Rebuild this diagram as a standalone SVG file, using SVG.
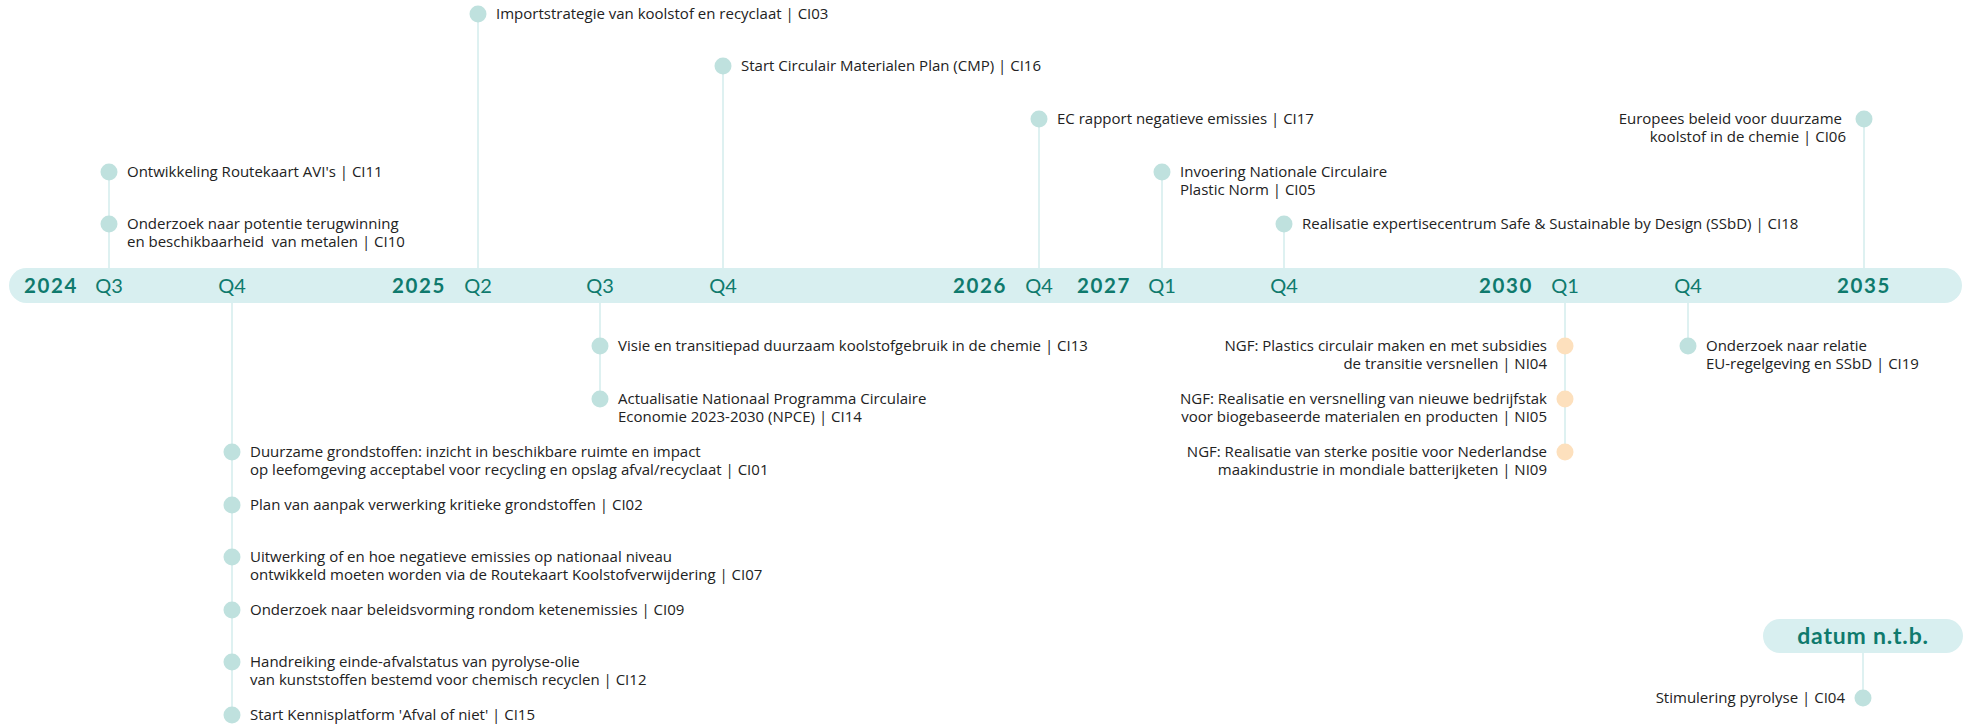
<svg xmlns="http://www.w3.org/2000/svg" width="1968" height="725" viewBox="0 0 1968 725">
<style>
.bg{fill:#ffffff}
.bar{fill:#d8eff0}
.yr{font-family:Lato,"Open Sans",sans-serif;font-weight:700;font-size:20.5px;fill:#0f7a6d;text-anchor:middle;letter-spacing:1.6px}
.q{font-family:Lato,"Open Sans",sans-serif;font-weight:400;font-size:20px;fill:#0f7a6d;text-anchor:middle}
.t{font-family:"Open Sans","Liberation Sans",sans-serif;font-size:15px;fill:#222222}
.r{text-anchor:end}
.dot{fill:#bfe1de}
.ngf{fill:#fde0bd}
.ln{stroke:#d3ecec;stroke-width:1.5;fill:none}
.pill{fill:#d8eff0}
.ntb{font-family:Lato,"Open Sans",sans-serif;font-weight:700;font-size:23px;fill:#0f7a6d;text-anchor:middle;letter-spacing:0.8px}
</style>
<rect class="bg" x="0" y="0" width="1968" height="725"/>
<g id="connectors">
<line class="ln" x1="109" y1="172" x2="109" y2="268"/>
<line class="ln" x1="478" y1="14" x2="478" y2="268"/>
<line class="ln" x1="723" y1="66" x2="723" y2="268"/>
<line class="ln" x1="1039" y1="119" x2="1039" y2="268"/>
<line class="ln" x1="1162" y1="172" x2="1162" y2="268"/>
<line class="ln" x1="1284" y1="224" x2="1284" y2="268"/>
<line class="ln" x1="1864" y1="119" x2="1864" y2="268"/>
<line class="ln" x1="232" y1="303" x2="232" y2="715"/>
<line class="ln" x1="600" y1="303" x2="600" y2="399"/>
<line class="ln" x1="1565" y1="303" x2="1565" y2="452"/>
<line class="ln" x1="1688" y1="303" x2="1688" y2="346"/>
<line class="ln" x1="1863" y1="653" x2="1863" y2="698"/>
</g>
<g id="timeline">
<rect class="bar" x="9" y="268" width="1953" height="35" rx="17.5"/>
<text class="yr" x="51" y="293">2024</text>
<text class="q" x="109" y="293">Q3</text>
<text class="q" x="232" y="293">Q4</text>
<text class="yr" x="419" y="293">2025</text>
<text class="q" x="478" y="293">Q2</text>
<text class="q" x="600" y="293">Q3</text>
<text class="q" x="723" y="293">Q4</text>
<text class="yr" x="980" y="293">2026</text>
<text class="q" x="1039" y="293">Q4</text>
<text class="yr" x="1104" y="293">2027</text>
<text class="q" x="1162" y="293">Q1</text>
<text class="q" x="1284" y="293">Q4</text>
<text class="yr" x="1506" y="293">2030</text>
<text class="q" x="1565" y="293">Q1</text>
<text class="q" x="1688" y="293">Q4</text>
<text class="yr" x="1864" y="293">2035</text>
</g>
<g id="ci11"><circle class="dot" cx="109" cy="172" r="8.5"/><text class="t" x="127" y="177">Ontwikkeling Routekaart AVI's | CI11</text></g>
<g id="ci10"><circle class="dot" cx="109" cy="224" r="8.5"/><text class="t" x="127" y="229">Onderzoek naar potentie terugwinning</text><text class="t" x="127" y="247">en beschikbaarheid&#160; van metalen | CI10</text></g>
<g id="ci03"><circle class="dot" cx="478" cy="14" r="8.5"/><text class="t" x="496" y="19">Importstrategie van koolstof en recyclaat | CI03</text></g>
<g id="ci16"><circle class="dot" cx="723" cy="66" r="8.5"/><text class="t" x="741" y="71">Start Circulair Materialen Plan (CMP) | CI16</text></g>
<g id="ci17"><circle class="dot" cx="1039" cy="119" r="8.5"/><text class="t" x="1057" y="124">EC rapport negatieve emissies | CI17</text></g>
<g id="ci05"><circle class="dot" cx="1162" cy="172" r="8.5"/><text class="t" x="1180" y="177">Invoering Nationale Circulaire</text><text class="t" x="1180" y="195">Plastic Norm | CI05</text></g>
<g id="ci18"><circle class="dot" cx="1284" cy="224" r="8.5"/><text class="t" x="1302" y="229">Realisatie expertisecentrum Safe &amp; Sustainable by Design (SSbD) | CI18</text></g>
<g id="ci06"><circle class="dot" cx="1864" cy="119" r="8.5"/><text class="t r" x="1842" y="124">Europees beleid voor duurzame</text><text class="t r" x="1846" y="142">koolstof in de chemie | CI06</text></g>
<g id="ci13"><circle class="dot" cx="600" cy="346" r="8.5"/><text class="t" x="618" y="351">Visie en transitiepad duurzaam koolstofgebruik in de chemie | CI13</text></g>
<g id="ci14"><circle class="dot" cx="600" cy="399" r="8.5"/><text class="t" x="618" y="404">Actualisatie Nationaal Programma Circulaire</text><text class="t" x="618" y="422">Economie 2023-2030 (NPCE) | CI14</text></g>
<g id="ci01"><circle class="dot" cx="232" cy="452" r="8.5"/><text class="t" x="250" y="457">Duurzame grondstoffen: inzicht in beschikbare ruimte en impact</text><text class="t" x="250" y="475">op leefomgeving acceptabel voor recycling en opslag afval/recyclaat | CI01</text></g>
<g id="ci02"><circle class="dot" cx="232" cy="505" r="8.5"/><text class="t" x="250" y="510">Plan van aanpak verwerking kritieke grondstoffen | CI02</text></g>
<g id="ci07"><circle class="dot" cx="232" cy="557" r="8.5"/><text class="t" x="250" y="562">Uitwerking of en hoe negatieve emissies op nationaal niveau</text><text class="t" x="250" y="580">ontwikkeld moeten worden via de Routekaart Koolstofverwijdering | CI07</text></g>
<g id="ci09"><circle class="dot" cx="232" cy="610" r="8.5"/><text class="t" x="250" y="615">Onderzoek naar beleidsvorming rondom ketenemissies | CI09</text></g>
<g id="ci12"><circle class="dot" cx="232" cy="662" r="8.5"/><text class="t" x="250" y="667">Handreiking einde-afvalstatus van pyrolyse-olie</text><text class="t" x="250" y="685">van kunststoffen bestemd voor chemisch recyclen | CI12</text></g>
<g id="ci15"><circle class="dot" cx="232" cy="715" r="8.5"/><text class="t" x="250" y="720">Start Kennisplatform 'Afval of niet' | CI15</text></g>
<g id="ni04"><circle class="ngf" cx="1565" cy="346" r="8.5"/><text class="t r" x="1547" y="351">NGF: Plastics circulair maken en met subsidies</text><text class="t r" x="1547" y="369">de transitie versnellen | NI04</text></g>
<g id="ni05"><circle class="ngf" cx="1565" cy="399" r="8.5"/><text class="t r" x="1547" y="404">NGF: Realisatie en versnelling van nieuwe bedrijfstak</text><text class="t r" x="1547" y="422">voor biogebaseerde materialen en producten | NI05</text></g>
<g id="ni09"><circle class="ngf" cx="1565" cy="452" r="8.5"/><text class="t r" x="1547" y="457">NGF: Realisatie van sterke positie voor Nederlandse</text><text class="t r" x="1547" y="475">maakindustrie in mondiale batterijketen | NI09</text></g>
<g id="ci19"><circle class="dot" cx="1688" cy="346" r="8.5"/><text class="t" x="1706" y="351">Onderzoek naar relatie</text><text class="t" x="1706" y="369">EU-regelgeving en SSbD | CI19</text></g>
<g id="ntb"><rect class="pill" x="1763" y="619" width="200" height="34" rx="17"/><text class="ntb" x="1863" y="644">datum n.t.b.</text></g>
<g id="ci04"><circle class="dot" cx="1863" cy="698" r="8.5"/><text class="t r" x="1845" y="703">Stimulering pyrolyse | CI04</text></g>
</svg>
